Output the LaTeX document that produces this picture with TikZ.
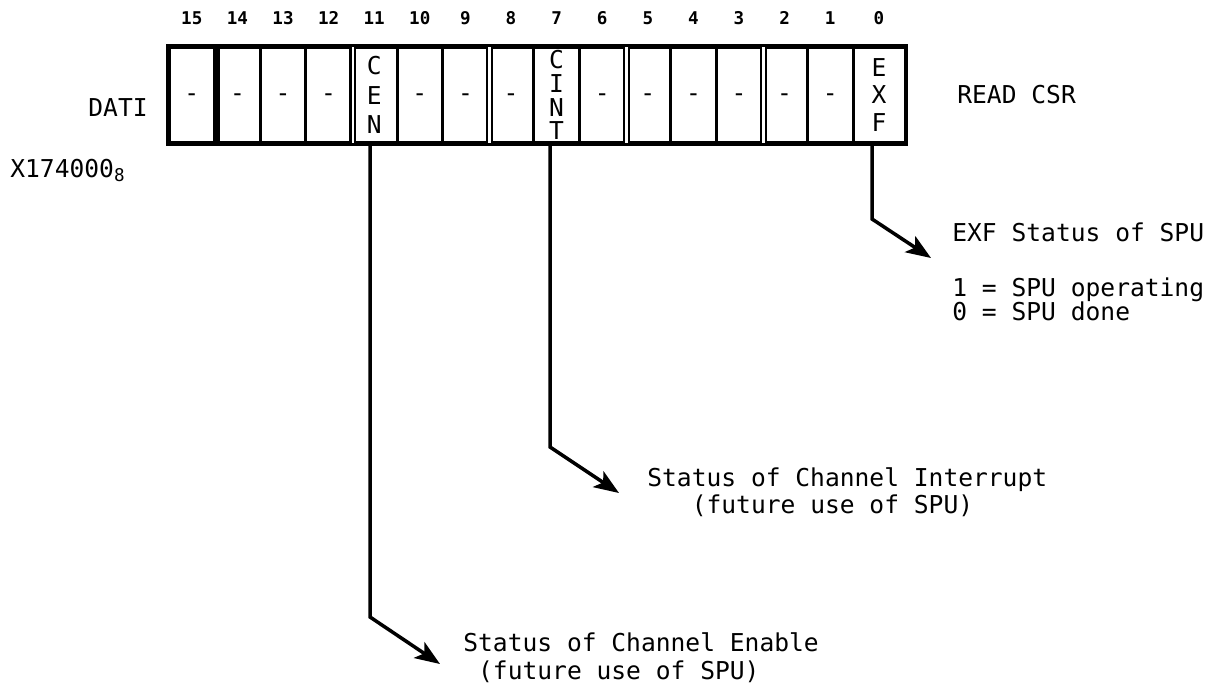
\documentclass[tikz,border=0pt]{standalone}
\usepackage{fontspec}
\usepackage{tikz}
\usetikzlibrary{arrows.meta}
\newfontfamily\typefont{DejaVu Sans Mono}
\newcommand{\emptybit}{\smash{\raisebox{-0.14cm}{-}}}

\begin{document}
\begin{tikzpicture}[x=0.02cm, y=-0.02cm,
  every node/.style={inner sep=0pt, font=\typefont\fontsize{14}{17}\selectfont},
  bitcell/.style={draw, line width=1.7pt, minimum width=0.912cm, minimum height=1.92cm, align=center},
  bitnum/.style={font=\typefont\bfseries\fontsize{10}{12}\selectfont},
  groupline/.style={line width=1.2pt, double, double distance=1.5pt},
  pointer/.style={line width=2pt, -{Stealth[length=0.5cm, width=0.38cm, inset=0.12cm]}},
  note/.style={anchor=base west}]

\useasboundingbox (0,0) rectangle (1222,686);

% Bit numbers
\node[bitnum] (n15) at (191.8,18) {15};
\node[bitnum] (n14) at (237.4,18) {14};
\node[bitnum] (n13) at (283.0,18) {13};
\node[bitnum] (n12) at (328.6,18) {12};
\node[bitnum] (n11) at (374.2,18) {11};
\node[bitnum] (n10) at (419.8,18) {10};
\node[bitnum] (n9) at (465.4,18) {9};
\node[bitnum] (n8) at (511.0,18) {8};
\node[bitnum] (n7) at (556.6,18) {7};
\node[bitnum] (n6) at (602.2,18) {6};
\node[bitnum] (n5) at (647.8,18) {5};
\node[bitnum] (n4) at (693.4,18) {4};
\node[bitnum] (n3) at (739.0,18) {3};
\node[bitnum] (n2) at (784.6,18) {2};
\node[bitnum] (n1) at (830.2,18) {1};
\node[bitnum] (n0) at (879.0,18) {0};

% Register cells
\node[bitcell] (b15) at (191.8,95) {\emptybit};
\node[bitcell] (b14) at (237.4,95) {\emptybit};
\node[bitcell] (b13) at (283.0,95) {\emptybit};
\node[bitcell] (b12) at (328.6,95) {\emptybit};
\node[bitcell] (b11) at (374.2,95) {C\\E\\N};
\node[bitcell] (b10) at (419.8,95) {\emptybit};
\node[bitcell] (b9) at (465.4,95) {\emptybit};
\node[bitcell] (b8) at (511.0,95) {\emptybit};
\node[bitcell, font=\typefont\fontsize{14}{13.6}\selectfont] (b7) at (556.6,95) {C\\I\\N\\T};
\node[bitcell] (b6) at (602.2,95) {\emptybit};
\node[bitcell] (b5) at (647.8,95) {\emptybit};
\node[bitcell] (b4) at (693.4,95) {\emptybit};
\node[bitcell] (b3) at (739.0,95) {\emptybit};
\node[bitcell] (b2) at (784.6,95) {\emptybit};
\node[bitcell] (b1) at (830.2,95) {\emptybit};
\node[bitcell, minimum width=1.04cm, font=\typefont\fontsize{14}{15.9}\selectfont] (b0) at (879.0,95) {E\\X\\F};

% Octal group dividers
\draw[line width=4pt] (b15.north east) -- (b15.south east);
\draw[groupline] (b12.north east) -- (b12.south east);
\draw[groupline] (b9.north east) -- (b9.south east);
\draw[groupline] (b6.north east) -- (b6.south east);
\draw[groupline] (b3.north east) -- (b3.south east);
\draw[line width=1.7pt] (b15.north west) rectangle (b0.south east);

% Side labels
\node[anchor=base east] (dati) at (148,116) {DATI};
\node[anchor=base west] (addr) at (10,177) {X174000\raisebox{-0.08cm}{\fontsize{10}{12}\selectfont 8}};
\node[anchor=base west] (readcsr) at (957,103) {READ CSR};

% Bit descriptions
\node[note] (exfnote) at (952,241) {EXF Status of SPU};
\node[note] (exfone) at (952,296) {1 = SPU operating};
\node[note] (exfzero) at (952,320) {0 = SPU done};
\node[note] (cintnote) at (647,486) {Status of Channel Interrupt};
\node[note] (cintuse) at (647,513) {\hphantom{xxx}(future use of SPU)};
\node[note] (cennote) at (463,651) {Status of Channel Enable};
\node[note] (cenuse) at (463,679) {\hphantom{x}(future use of SPU)};

% Pointers
\coordinate (exfbend) at (872,219);
\coordinate (exftip) at (931,258);
\coordinate (cintbend) at (550,447);
\coordinate (cinttip) at (619,493);
\coordinate (cenbend) at (370,617);
\coordinate (centip) at (440,664);

\draw[pointer] (b0.south -| exfbend) -- (exfbend) -- (exftip);
\draw[pointer] (b7.south -| cintbend) -- (cintbend) -- (cinttip);
\draw[pointer] (b11.south -| cenbend) -- (cenbend) -- (centip);

\end{tikzpicture}
\end{document}
